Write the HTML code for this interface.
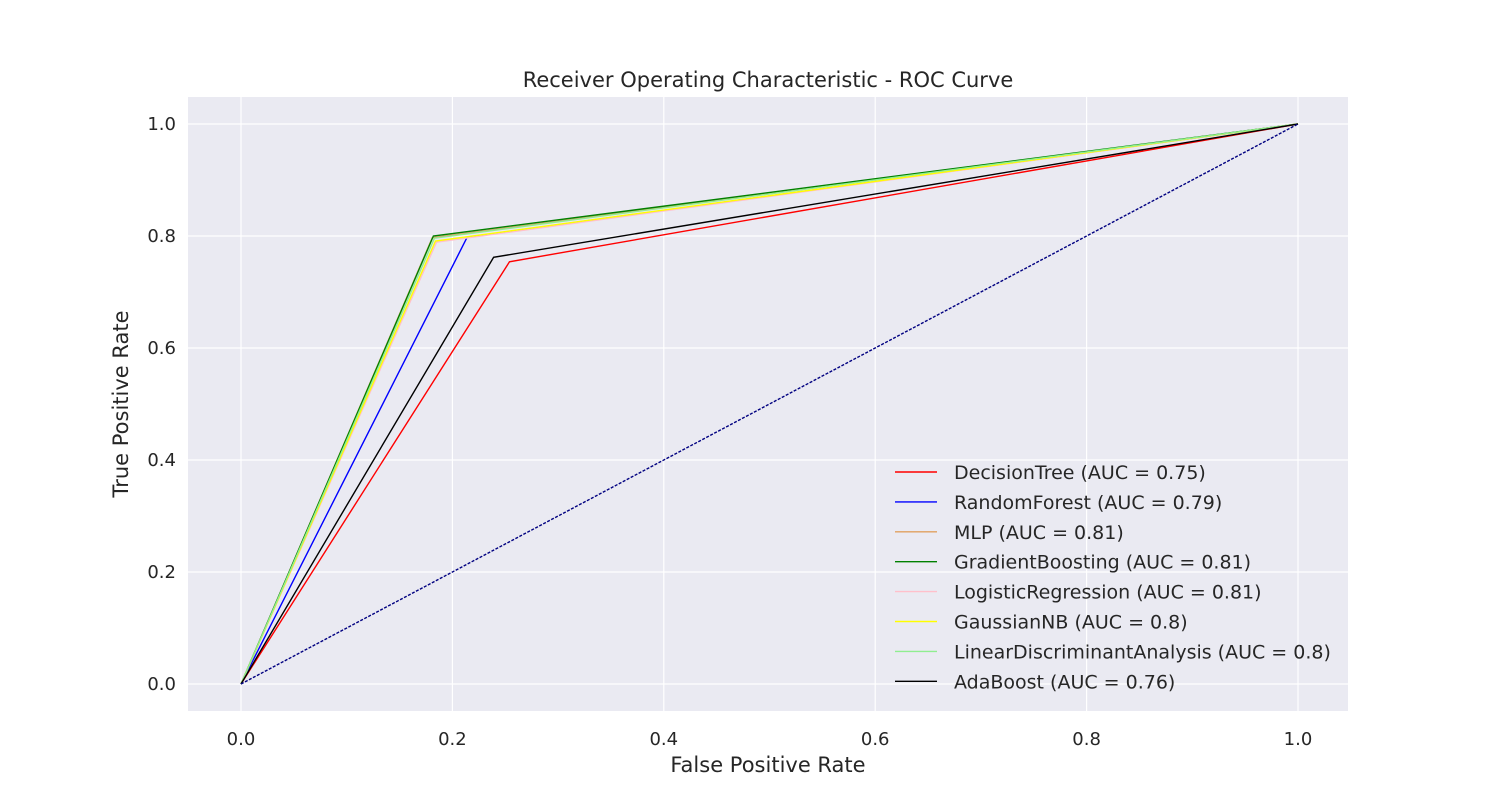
<!DOCTYPE html>
<html><head><meta charset="utf-8"><style>
body{margin:0;background:#fff;}
svg text{font-family:"DejaVu Sans","Liberation Sans",sans-serif;fill:#262626;}
</style></head><body>
<svg id="chart" width="1500" height="800">
<rect x="188" y="97" width="1160" height="614" fill="#eaeaf2"/>
<g id="grid"></g>
<g id="ticks"></g>
<g id="lines"></g>
<g id="legend"></g>
<text x="768" y="87" text-anchor="middle" font-size="21">Receiver Operating Characteristic - ROC Curve</text>
<text x="768" y="772" text-anchor="middle" font-size="21">False Positive Rate</text>
<text x="128" y="404" text-anchor="middle" font-size="21" transform="rotate(-90 128 404)">True Positive Rate</text>
</svg>
<script>
const names=["DecisionTree","RandomForest","MLP","GradientBoosting","LogisticRegression","GaussianNB","LinearDiscriminantAnalysis","AdaBoost"];
const aucs=["0.75","0.79","0.81","0.81","0.81","0.8","0.8","0.76"];
const colors=["red","blue","#e0a060","green","pink","yellow","lightgreen","black"];
const fprMid=[0.254,0.214,0.181,0.182,0.185,0.184,0.183,0.239];
const tprMid=[0.754,0.798,0.797,0.800,0.789,0.791,0.796,0.762];
const ticks=[0,0.2,0.4,0.6,0.8,1.0];
const tickLabels=["0.0","0.2","0.4","0.6","0.8","1.0"];
const X=v=>241+v*1057, Y=v=>684-v*560;
const NS="http://www.w3.org/2000/svg";
function mk(tag,attrs,parent){const e=document.createElementNS(NS,tag);for(const k in attrs)e.setAttribute(k,attrs[k]);document.getElementById(parent).appendChild(e);return e;}
ticks.forEach((t,i)=>{
  const gx=mk("line",{x1:X(t),x2:X(t),y1:97,y2:711,stroke:"#fff","stroke-width":1.2},"grid");
  
  
  const gy=mk("line",{x1:188,x2:1348,y1:Y(t),y2:Y(t),stroke:"#fff","stroke-width":1.2},"grid");
  
  
  const tx=mk("text",{x:X(t),y:745,"text-anchor":"middle","font-size":18},"ticks");tx.textContent=tickLabels[i];
  
  
  const ty=mk("text",{x:176,y:Y(t)+6,"text-anchor":"end","font-size":18},"ticks");ty.textContent=tickLabels[i];
  
  
});
names.forEach((n,i)=>{
  const p=mk("polyline",{points:`${X(0)},${Y(0)} ${X(fprMid[i])},${Y(tprMid[i])} ${X(1)},${Y(1)}`,fill:"none",stroke:colors[i],"stroke-width":1.4},"lines");
  
  
  const ly=472+i*29.9;
  const l=mk("line",{x1:895,x2:937,y1:ly,y2:ly,stroke:colors[i],"stroke-width":1.4},"legend");
  
  
  const t=mk("text",{x:954,y:ly+7,"font-size":19},"legend");t.textContent=`${n} (AUC = ${aucs[i]})`;
  
  
});
const d=mk("line",{x1:X(0),y1:Y(0),x2:X(1),y2:Y(1),stroke:"navy","stroke-width":1.4,"stroke-dasharray":"3,1.5"},"lines");


</script>
</body></html>
